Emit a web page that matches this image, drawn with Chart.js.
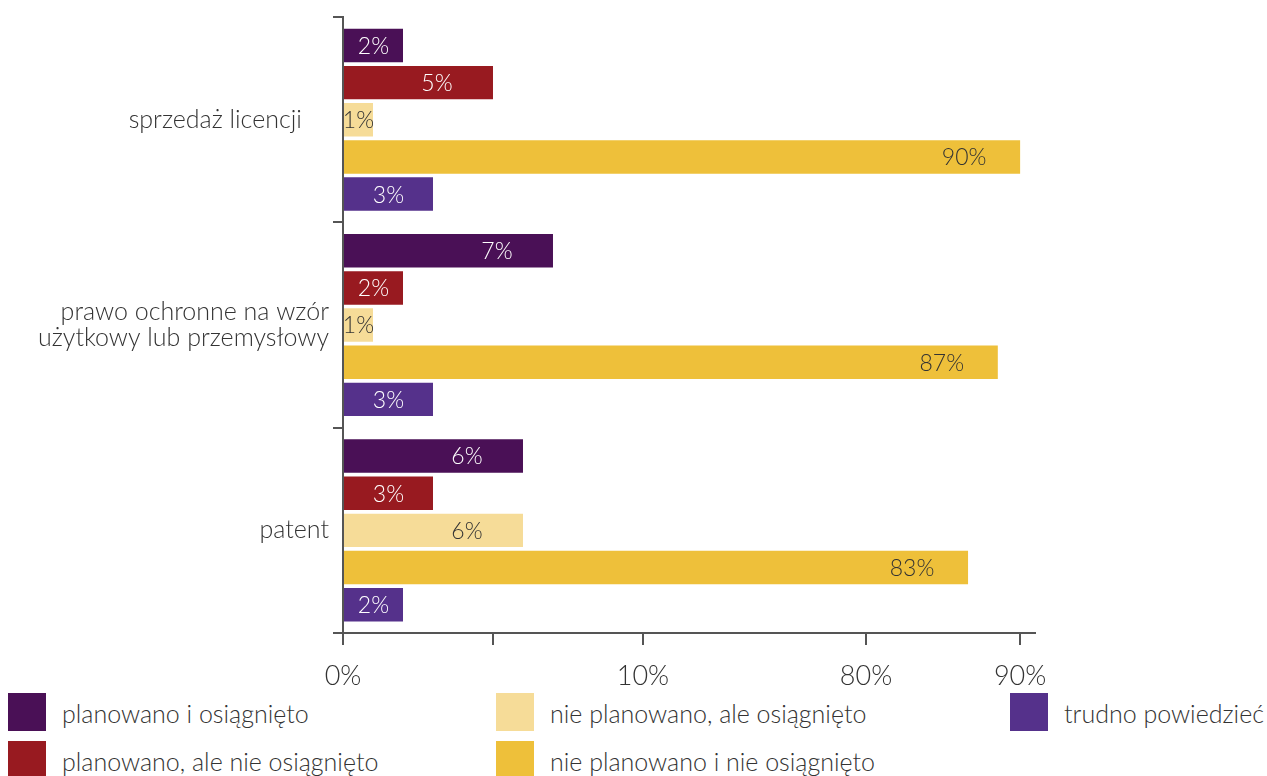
<!DOCTYPE html>
<html lang="pl">
<head>
<meta charset="utf-8">
<title>Efekty ochrony własności intelektualnej</title>
<script src="https://cdn.jsdelivr.net/npm/chart.js@4/dist/chart.umd.min.js"></script>
<style>
    html, body { margin: 0; padding: 0; background: #fff; }
    body { width: 1267px; height: 776px; position: relative; overflow: hidden; font-family: 'Lato', 'Open Sans', sans-serif; font-weight: 300; color: #333; }
    #chart-wrap { position: absolute; left: 0; top: 0; width: 1267px; height: 690px; }
    #legend { position: absolute; left: 8px; top: 693px; display: grid; grid-template-columns: 488px 514px auto; grid-template-rows: 48px 48px; grid-auto-flow: column; }
    .legend-item { display: flex; align-items: flex-start; font-size: 25px; line-height: 40px; white-space: nowrap; }
    .legend-box { width: 38px; height: 38px; margin-right: 16px; flex: none; }
</style>
</head>
<body>
<div id="chart-wrap"><canvas id="resultsChart" width="1267" height="690"></canvas></div>
<div id="legend"></div>
<script>
const categories = [
    'sprzedaż licencji    ',
    ['prawo ochronne na wzór', 'użytkowy lub przemysłowy'],
    'patent'
];
const seriesNames = [
    'planowano i osiągnięto',
    'planowano, ale nie osiągnięto',
    'nie planowano, ale osiągnięto',
    'nie planowano i nie osiągnięto',
    'trudno powiedzieć'
];
const plannedAchieved = [2, 7, 6];
const plannedNotAchieved = [5, 2, 3];
const unplannedAchieved = [1, 1, 6];
const unplannedNotAchieved = [90, 87, 83];
const hardToSay = [3, 3, 2];

const axisTicks = [0, 5, 10, 80, 90];
const axisTickLabels = ['0%', '', '10%', '80%', '90%'];

const seriesValues = [plannedAchieved, plannedNotAchieved, unplannedAchieved, unplannedNotAchieved, hardToSay];
const seriesColors = ['#4a1056', '#981a20', '#f6dc98', '#eec03a', '#55318b'];
const labelColors = ['#fff', '#fff', '#333', '#333', '#fff'];

const FONT = "'Lato', 'Open Sans', sans-serif";
const TEXT = '#333';
const AXIS = '#555';

// the value axis is stretched below 10% and squeezed between 10% and 80%;
// breakValues map onto breakShares (fraction of the axis length)
const breakValues = [0, 10, 80, 82, 92];
const breakShares = [0, 0.4335, 0.7558, 0.8925, 1];

class BrokenLinearScale extends Chart.LinearScale {
    static id = 'brokenLinear';
    static defaults = Chart.LinearScale.defaults;

    toShare(v) {
        if (v <= breakValues[0]) return 0;
        for (let i = 1; i < breakValues.length; i++) {
            if (v <= breakValues[i]) {
                const t = (v - breakValues[i - 1]) / (breakValues[i] - breakValues[i - 1]);
                return breakShares[i - 1] + t * (breakShares[i] - breakShares[i - 1]);
            }
        }
        return 1;
    }

    fromShare(s) {
        for (let i = 1; i < breakShares.length; i++) {
            if (s <= breakShares[i]) {
                const t = (s - breakShares[i - 1]) / (breakShares[i] - breakShares[i - 1]);
                return breakValues[i - 1] + t * (breakValues[i] - breakValues[i - 1]);
            }
        }
        return breakValues[breakValues.length - 1];
    }

    buildTicks() {
        return axisTicks.map(v => ({ value: v }));
    }

    getPixelForValue(value) {
        return this.getPixelForDecimal(this.toShare(value));
    }

    getValueForPixel(pixel) {
        return this.fromShare(this.getDecimalForPixel(pixel));
    }
}
Chart.register(BrokenLinearScale);

// percentage labels sit near the bar end, or in the middle of short bars
const barLabels = {
    id: 'barLabels',
    afterDatasetsDraw(chart) {
        const ctx = chart.ctx;
        ctx.save();
        ctx.font = `300 23px ${FONT}`;
        ctx.textAlign = 'center';
        ctx.textBaseline = 'middle';
        chart.data.datasets.forEach((ds, di) => {
            const meta = chart.getDatasetMeta(di);
            ctx.fillStyle = labelColors[di];
            meta.data.forEach((bar, i) => {
                const mid = (bar.x + bar.base) / 2;
                const x = Math.max(bar.x - 56, mid);
                ctx.fillText(ds.data[i] + '%', x, bar.y + 1);
            });
        });
        ctx.restore();
    }
};

const datasets = seriesNames.map((name, i) => ({
    label: name,
    data: seriesValues[i],
    backgroundColor: seriesColors[i],
    borderWidth: 0,
    categoryPercentage: 0.905,
    barPercentage: 0.9
}));

new Chart(document.getElementById('resultsChart'), {
    type: 'bar',
    data: { labels: categories, datasets: datasets },
    plugins: [barLabels],
    options: {
        indexAxis: 'y',
        responsive: false,
        animation: false,
        layout: { padding: { top: 17, right: 232, left: 0, bottom: 0 } },
        plugins: {
            legend: { display: false },
            tooltip: { enabled: false }
        },
        scales: {
            x: {
                type: 'brokenLinear',
                min: 0,
                max: 92,
                afterFit(scale) { scale.height = 57; },
                border: { display: true, color: AXIS, width: 2 },
                grid: { drawOnChartArea: false, drawTicks: true, tickLength: 12, color: AXIS, lineWidth: 2 },
                ticks: {
                    autoSkip: false,
                    maxRotation: 0,
                    padding: 15,
                    color: TEXT,
                    font: { family: FONT, size: 27, weight: 300 },
                    callback: (v) => axisTickLabels[axisTicks.indexOf(v)]
                }
            },
            y: {
                afterFit(scale) { scale.width = 343; },
                offset: true,
                border: { display: true, color: AXIS, width: 2 },
                grid: { offset: true, drawOnChartArea: false, drawTicks: true, tickLength: 10, color: AXIS, lineWidth: 2 },
                ticks: {
                    padding: 4,
                    color: TEXT,
                    font: { family: FONT, size: 25, weight: 300, lineHeight: 1.05 }
                }
            }
        }
    }
});

// legend laid out in columns under the plot
const legendEl = document.getElementById('legend');
legendEl.innerHTML = seriesNames.map((name, i) => `
    <div class="legend-item"><span class="legend-box" style="background:${seriesColors[i]}"></span><span>${name}</span></div>
`).join('');
</script>
</body>
</html>
